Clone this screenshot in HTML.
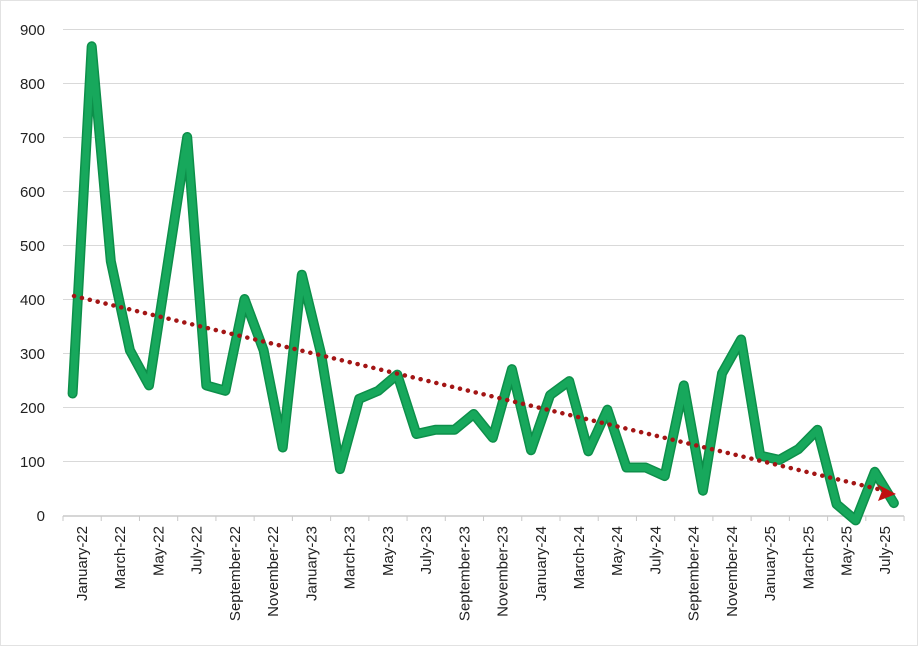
<!DOCTYPE html>
<html><head><meta charset="utf-8"><style>
html,body{margin:0;padding:0;background:#fff}
svg{display:block}
text{font-family:"Liberation Sans",sans-serif;fill:#222}
</style></head><body>
<svg width="918" height="646" viewBox="0 0 918 646" xmlns="http://www.w3.org/2000/svg">
<rect x="0.5" y="0.5" width="917" height="645" fill="#fff" stroke="#e2e2e2"/>
<g stroke="#d9d9d9" stroke-width="1">
<line x1="63" x2="904" y1="29.5" y2="29.5"/><line x1="63" x2="904" y1="83.5" y2="83.5"/>
<line x1="63" x2="904" y1="137.5" y2="137.5"/><line x1="63" x2="904" y1="191.5" y2="191.5"/>
<line x1="63" x2="904" y1="245.5" y2="245.5"/><line x1="63" x2="904" y1="299.5" y2="299.5"/>
<line x1="63" x2="904" y1="353.5" y2="353.5"/><line x1="63" x2="904" y1="407.5" y2="407.5"/>
<line x1="63" x2="904" y1="461.5" y2="461.5"/>
</g>
<line x1="63" x2="904" y1="516" y2="516" stroke="#c8c8c8" stroke-width="1.5"/>
<g id="ticks" stroke="#c8c8c8"></g>
<g font-size="15" text-anchor="end">
<text x="45" y="35">900</text><text x="45" y="89">800</text><text x="45" y="143">700</text>
<text x="45" y="197">600</text><text x="45" y="251">500</text><text x="45" y="305">400</text>
<text x="45" y="359">300</text><text x="45" y="413">200</text><text x="45" y="467">100</text>
<text x="45" y="521">0</text>
</g>
<g id="labels" font-size="15" text-anchor="end"></g>
<polyline id="line" fill="none" stroke="#0d8f4a" stroke-width="10" stroke-linejoin="round" stroke-linecap="round"/>
<polyline id="line2" fill="none" stroke="#17a85c" stroke-width="7" stroke-linejoin="round" stroke-linecap="round"/>
<line x1="74" y1="296" x2="882" y2="490" stroke="#a31515" stroke-width="4.5" stroke-dasharray="0.1 8" stroke-linecap="round"/>
<polygon points="896,494 877,484 882,491 878,501" fill="#c01010"/>
</svg>
<script>
var d=[225,868,470,305,240,470,700,240,230,400,305,125,445,300,85,215,230,260,150,158,158,187,143,270,120,222,248,118,195,88,88,72,240,45,262,325,110,102,122,158,20,-10,80,22];
var pts=d.map(function(v,i){return (72.6+19.1*i).toFixed(1)+","+(515-v*0.54).toFixed(1)}).join(" ");
document.getElementById("line").setAttribute("points",pts);
document.getElementById("line2").setAttribute("points",pts);
var ns="http://www.w3.org/2000/svg";
var t=document.getElementById("ticks");
for(var k=0;k<=22;k++){var x=63+38.23*k;var l=document.createElementNS(ns,"line");l.setAttribute("x1",x);l.setAttribute("x2",x);l.setAttribute("y1",516);l.setAttribute("y2",521);t.appendChild(l);}
var names=["January-22","March-22","May-22","July-22","September-22","November-22","January-23","March-23","May-23","July-23","September-23","November-23","January-24","March-24","May-24","July-24","September-24","November-24","January-25","March-25","May-25","July-25"];
var g=document.getElementById("labels");
names.forEach(function(n,k){var x=63+38.23*k+19+5;var tx=document.createElementNS(ns,"text");tx.setAttribute("transform","translate("+x+",526) rotate(-90)");tx.textContent=n;g.appendChild(tx);});
</script>
</body></html>
